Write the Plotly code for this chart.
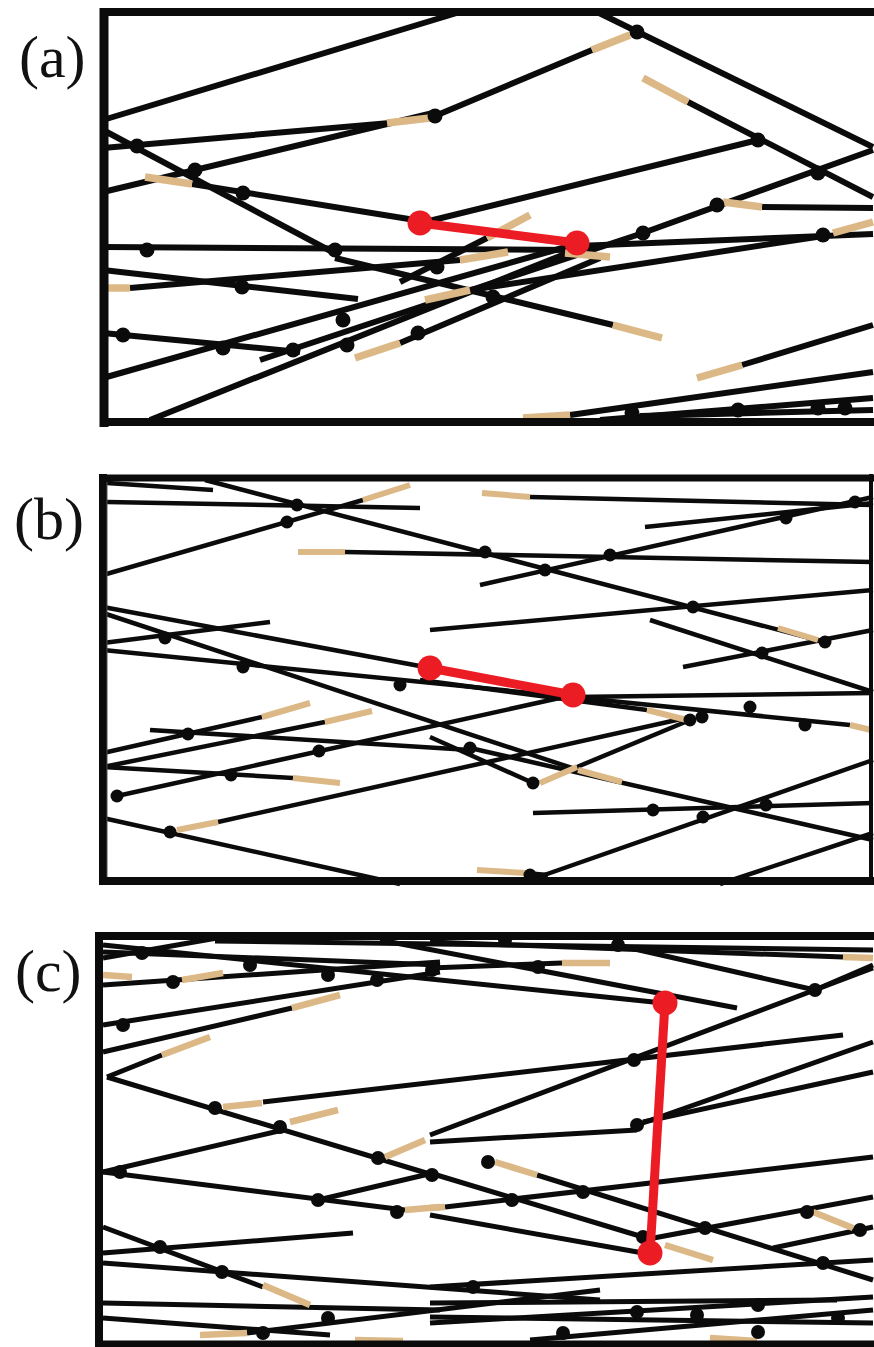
import plotly.graph_objects as go

# ---------------- data (page pixel coordinates: x right, y down) ----------------
PANEL_LABELS = ["(a)", "(b)", "(c)"]
LABEL_X = [52, 49, 48]
LABEL_Y = [57, 519, 971]

# frame sides per panel: (x0, y0, x1, y1, width)
FRAME_SIDES = [
    (104, 8, 104, 427, 9), (100, 12, 874, 12, 8), (100, 422, 874, 422, 8),
    (103, 474, 103, 885, 8), (100, 478, 874, 478, 7), (100, 881, 874, 881, 8), (871, 474, 871, 885, 4),
    (99, 932, 99, 1347, 8), (95, 936, 874, 936, 8), (95, 1344, 874, 1344, 7),
]
INNER_LINE = (107, 482, 107, 877, 1)

# ---- panel (a) ----
A_FIBERS = [
    (103, 120, 460, 12), (103, 148, 390, 123), (103, 192, 433, 113), (103, 130, 338, 255),
    (192, 184, 415, 220), (435, 116, 592, 50), (597, 12, 873, 147), (688, 102, 873, 197),
    (425, 222, 758, 140), (762, 207, 873, 208), (103, 247, 577, 250), (577, 246, 873, 234),
    (103, 270, 358, 299), (130, 288, 460, 260), (400, 282, 487, 238), (103, 333, 300, 352),
    (103, 378, 580, 243), (150, 420, 580, 248), (260, 360, 640, 234), (400, 343, 600, 258),
    (470, 290, 823, 236), (335, 258, 613, 325), (640, 234, 873, 150), (742, 365, 873, 325),
    (570, 415, 873, 372), (600, 420, 873, 398), (640, 416, 873, 410),
]
A_TAN = [
    (387, 123, 430, 118), (145, 177, 192, 184), (592, 50, 630, 35), (643, 78, 688, 102),
    (723, 202, 762, 207), (107, 288, 130, 288), (460, 260, 508, 252), (487, 238, 530, 215),
    (355, 358, 400, 343), (425, 300, 470, 290), (833, 233, 873, 222), (613, 325, 662, 338),
    (697, 378, 742, 365), (565, 253, 610, 257), (523, 418, 570, 415),
]
A_DOTS_X = [137, 195, 243, 435, 637, 758, 818, 717, 643, 823, 147, 335, 437, 493, 242,
            123, 223, 293, 343, 347, 418, 632, 738, 818, 845]
A_DOTS_Y = [146, 170, 193, 116, 32, 140, 173, 205, 233, 235, 250, 250, 267, 297, 287,
            335, 348, 350, 320, 345, 333, 413, 410, 408, 408]
A_RED = (420, 223, 577, 243)

# ---- panel (b) ----
B_FIBERS = [
    (107, 483, 213, 490), (107, 502, 420, 508), (205, 480, 825, 642), (103, 575, 363, 500),
    (345, 552, 873, 562), (530, 497, 873, 505), (645, 527, 873, 503), (480, 585, 873, 497),
    (103, 607, 425, 667), (103, 613, 578, 770), (103, 643, 270, 622), (103, 650, 850, 725),
    (420, 680, 647, 710), (573, 697, 873, 693), (650, 620, 873, 692), (683, 667, 873, 630),
    (430, 630, 873, 590), (577, 767, 690, 720), (430, 737, 533, 783), (103, 753, 262, 717),
    (103, 767, 325, 722), (150, 730, 470, 750), (117, 796, 573, 695), (103, 767, 293, 778),
    (218, 822, 690, 717), (103, 818, 400, 884), (533, 813, 873, 803), (470, 748, 873, 840),
    (530, 880, 873, 760), (720, 884, 873, 833), (525, 873, 548, 875),
]
B_TAN = [
    (363, 500, 410, 485), (298, 552, 345, 552), (482, 493, 530, 497), (578, 770, 622, 782),
    (850, 725, 871, 730), (647, 710, 687, 720), (778, 628, 818, 640), (262, 717, 310, 703),
    (325, 722, 372, 711), (293, 778, 340, 783), (177, 830, 218, 822), (540, 783, 577, 767),
    (477, 870, 525, 873),
]
B_DOTS_X = [297, 287, 485, 545, 610, 786, 855, 693, 825, 762, 165, 243, 400, 470, 188,
            117, 231, 319, 170, 533, 653, 703, 766, 702, 750, 805, 690, 530]
B_DOTS_Y = [505, 522, 552, 570, 555, 518, 502, 607, 642, 653, 638, 667, 685, 748, 734,
            796, 775, 751, 832, 783, 810, 817, 805, 717, 707, 725, 720, 875]
B_RED = (430, 668, 573, 695)

# ---- panel (c) ----
C_FIBERS = [
    (103, 958, 217, 938), (215, 941, 873, 950), (103, 945, 663, 1003), (103, 952, 440, 965),
    (103, 985, 440, 962), (103, 1025, 440, 972), (103, 1052, 292, 1008), (107, 1077, 162, 1055),
    (107, 1077, 433, 1175), (263, 1102, 843, 1035), (103, 1172, 283, 1130), (103, 1172, 405, 1210),
    (318, 1200, 433, 1173), (103, 1227, 263, 1287), (103, 1253, 353, 1233), (103, 1263, 600, 1300),
    (103, 1303, 440, 1310), (247, 1333, 600, 1290), (430, 942, 843, 957), (430, 968, 562, 963),
    (380, 940, 737, 1008), (617, 945, 815, 990), (815, 990, 873, 965), (873, 968, 430, 1135),
    (637, 1125, 873, 1042), (643, 1122, 873, 1072), (430, 1142, 637, 1130), (537, 1175, 873, 1280),
    (445, 1207, 873, 1157), (430, 1173, 643, 1237), (430, 1215, 643, 1253), (643, 1240, 873, 1197),
    (773, 1248, 873, 1227), (430, 1287, 873, 1260), (430, 1303, 837, 1300), (430, 1323, 873, 1297),
    (430, 1317, 873, 1323), (530, 1340, 873, 1310), (103, 1318, 330, 1335),
]
C_TAN = [
    (103, 975, 132, 977), (182, 980, 223, 973), (292, 1008, 340, 995), (162, 1055, 210, 1037),
    (223, 1107, 262, 1103), (290, 1122, 338, 1110), (385, 1157, 425, 1140), (405, 1210, 440, 1207),
    (263, 1285, 310, 1305), (200, 1335, 247, 1333), (355, 1340, 403, 1341), (562, 963, 610, 963),
    (843, 957, 873, 958), (495, 1162, 537, 1175), (430, 1208, 445, 1207), (665, 1245, 713, 1260),
    (813, 1212, 853, 1228), (710, 1338, 757, 1341),
]
C_DOTS_X = [142, 250, 328, 173, 377, 432, 123, 215, 280, 378, 432, 120, 318, 397, 160, 222,
            328, 263, 538, 618, 815, 634, 637, 488, 583, 512, 705, 807, 860, 823, 473, 637,
            697, 758, 838, 563, 758, 643, 505]
C_DOTS_Y = [953, 965, 975, 982, 980, 970, 1025, 1108, 1127, 1158, 1175, 1172, 1200, 1212, 1247,
            1272, 1318, 1333, 967, 945, 990, 1060, 1125, 1162, 1192, 1200, 1228, 1212, 1230, 1263,
            1287, 1312, 1315, 1305, 1318, 1333, 1332, 1237, 940]
C_RED = (665, 1003, 650, 1253)

BLACK = "#0b0b0b"
TAN = "#dcb886"
RED = "#ec1c24"


def seg_xy(segs):
    xs, ys = [], []
    for x0, y0, x1, y1 in segs:
        xs += [x0, x1, None]
        ys += [y0, y1, None]
    return xs, ys


fig = go.Figure()

panels = [
    (A_FIBERS, A_TAN, A_DOTS_X, A_DOTS_Y, A_RED, 6, 15),
    (B_FIBERS, B_TAN, B_DOTS_X, B_DOTS_Y, B_RED, 4.5, 13),
    (C_FIBERS, C_TAN, C_DOTS_X, C_DOTS_Y, C_RED, 5, 14),
]
for fibers, tans, dx, dy, red, lw, ds in panels:
    x, y = seg_xy(fibers)
    fig.add_trace(go.Scatter(x=x, y=y, mode="lines", line=dict(color=BLACK, width=lw),
                             hoverinfo="skip", showlegend=False))
    x, y = seg_xy(tans)
    fig.add_trace(go.Scatter(x=x, y=y, mode="lines", line=dict(color=TAN, width=lw + 1.5),
                             hoverinfo="skip", showlegend=False))
    fig.add_trace(go.Scatter(x=dx, y=dy, mode="markers",
                             marker=dict(color=BLACK, size=ds, line=dict(width=0)),
                             hoverinfo="skip", showlegend=False))
    x, y = seg_xy([red])
    fig.add_trace(go.Scatter(x=x, y=y, mode="lines", line=dict(color=RED, width=9),
                             hoverinfo="skip", showlegend=False))
    fig.add_trace(go.Scatter(x=[red[0], red[2]], y=[red[1], red[3]], mode="markers",
                             marker=dict(color=RED, size=25, line=dict(width=0)),
                             hoverinfo="skip", showlegend=False))

shapes = []
for (x0, y0, x1, y1, w) in FRAME_SIDES:
    shapes.append(dict(type="line", xref="x", yref="y", x0=x0, y0=y0, x1=x1, y1=y1,
                       line=dict(color=BLACK, width=w), layer="above"))
x0, y0, x1, y1, w = INNER_LINE
shapes.append(dict(type="line", xref="x", yref="y", x0=x0, y0=y0, x1=x1, y1=y1,
                   line=dict(color="#555", width=w), layer="above"))

annotations = []
for txt, lx, ly in zip(PANEL_LABELS, LABEL_X, LABEL_Y):
    annotations.append(dict(x=lx, y=ly, xref="x", yref="y", text=txt, showarrow=False,
                            font=dict(family="Liberation Serif, Times New Roman, serif", size=60, color="#111"),
                            xanchor="center", yanchor="middle"))

fig.update_layout(
    width=874, height=1347, margin=dict(l=0, r=0, t=0, b=0),
    paper_bgcolor="white", plot_bgcolor="white",
    xaxis=dict(range=[0, 874], visible=False, fixedrange=True),
    yaxis=dict(range=[1347, 0], visible=False, fixedrange=True),
    shapes=shapes, annotations=annotations,
)

fig.write_html("out.html")
